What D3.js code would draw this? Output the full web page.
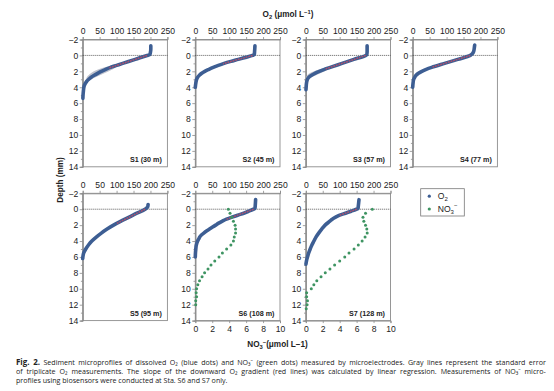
<!DOCTYPE html>
<html><head><meta charset="utf-8">
<script src="https://cdn.jsdelivr.net/npm/d3@7"></script>
<style>
html,body{margin:0;padding:0;background:#fff;}
svg{display:block;font-family:"Liberation Sans",Arial,sans-serif;}
</style></head>
<body>
<svg id="chart" width="554" height="391"></svg>
<script>
// ---- data: [depth (mm), O2 (µmol/L), standard error] ----
const stations = ["S1 (30 m)","S2 (45 m)","S3 (57 m)","S4 (77 m)","S5 (95 m)","S6 (108 m)","S7 (128 m)"];
const o2S1 = [[-1.2,201,0],[-0.8,201,0],[-0.4,200,0],[-0.1,198,1],[0,190,1],[0.5,155,3],[1,118,7],[1.25,100,12],[1.5,82,17],[1.75,68,21],[2,55,22],[2.25,44,20],[2.5,34,17],[2.75,25,13],[3,18,8],[3.25,12,4],[3.5,8,2],[3.75,5,1],[4,3.5,1],[4.5,2,0],[5,1,0],[5.4,0.5,0]];
const o2S2 = [[-1.2,176,0],[-0.5,175,0],[-0.1,174,0],[0,169,1],[0.25,148,1],[0.5,127,2],[0.75,105,2],[1,85,3],[1.25,68,3],[1.5,53,4],[1.75,40,4],[2,28,4],[2.25,19,3],[2.5,12,2],[2.75,7,1],[3,4,1],[3.5,1.5,0],[4,0,0]];
const o2S3 = [[-1.2,181,0],[-0.5,181,0],[-0.1,180,0],[0,177,1],[0.5,142,3],[1,107,6],[1.5,72,11],[1.75,55,14],[2,40,16],[2.25,27,16],[2.5,17,13],[2.75,9,8],[3,5,4],[3.25,3,2],[3.5,2,0],[4,1,0],[4.3,0.5,0]];
const o2S4 = [[-1.3,183,0],[-1,182,0],[-0.5,180,0],[-0.2,176,0],[0,170,1],[0.5,133,3],[1,94,5],[1.5,56,8],[1.75,40,8],[2,27,7],[2.25,17,5],[2.5,10,4],[2.75,6,2],[3,3,1],[3.5,1,0],[4,0,0]];
const o2S5 = [[-0.6,193,0],[-0.3,192,0],[0,184,1],[0.5,160,3],[1,137,5],[1.5,113,6],[2,91,6],[2.5,72,5],[3,55,3],[3.5,40,2],[4,27,1],[4.5,17,0],[5,9,0],[5.5,3,0],[6,0.5,0],[6.2,0,0]];
const o2S6 = [[-1.2,178,0],[-0.5,177,0],[-0.1,176,0],[0,172,1],[0.25,158,1],[0.5,143,2],[0.75,125,2],[1,108,3],[1.25,92,3],[1.5,80,3],[1.75,69,3],[2,60,3],[2.25,51,2],[2.5,42,2],[2.75,33,1],[3,25,1],[3.25,18,1],[3.5,13,1],[3.75,10,0],[4,7,0],[4.5,3,0],[5,1.5,0],[5.5,0.5,0],[6,0,0]];
const o2S7 = [[-1.2,157,0],[-0.8,156,0],[-0.4,155,0],[-0.1,154,0],[0,150,1],[0.25,134,2],[0.5,117,2],[0.75,100,3],[1,88,3],[1.25,78,3],[1.5,71,3],[2,57,2],[2.5,47,2],[3,38,1],[3.5,30,1],[4,24,1],[4.5,18,0],[5,13,0],[5.5,8.5,0],[6,5,0],[6.5,2,0],[6.9,0.5,0]];
// linear regression of downward O2 gradient: [depth, O2] endpoints
const regS1 = [[0,190],[1.6,76]];
const regS2 = [[0,169],[1.05,82]];
const regS3 = [[0,177],[1.7,58]];
const regS4 = [[0,170],[1.5,56]];
const regS5 = [[0,184],[1.8,100]];
const regS6 = [[0,172],[1.3,90]];
const regS7 = [[0,150],[0.75,100]];
// NO3- profiles: [depth (mm), NO3 (µmol/L)]
const no3S6 = [[0,3.9],[0.5,4.1],[1,4.3],[1.5,4.5],[2,4.7],[2.5,4.75],[3,4.75],[3.5,4.6],[4,4.5],[4.5,4.2],[5,3.7],[5.5,3.2],[6,2.8],[6.5,2.3],[7,1.85],[7.5,1.5],[8,1.1],[8.5,0.8],[9,0.5],[9.5,0.3],[10,0.15],[10.5,0.1],[11,0.15],[11.5,0.05],[12,0.05]];
const no3S7 = [[0,7.85],[0.5,7.05],[1,6.75],[1.5,6.85],[2,7.05],[2.5,7.2],[3,7.25],[3.5,7.0],[4,6.65],[4.5,6.2],[5,5.7],[5.5,5.1],[6,4.6],[6.5,4.0],[7,3.4],[7.5,2.85],[8,2.3],[8.5,1.8],[9,1.3],[9.5,0.95],[10,0.65],[10.5,0.1],[11,0.1],[11.5,0.2],[12,0.15],[12.5,0.05]];
const o2Ticks = [0,50,100,150,200,250];
const depthTicks = [-2,0,2,4,6,8,10,12,14];
const no3Ticks = [0,2,4,6,8,10];

const o2Data = [o2S1,o2S2,o2S3,o2S4,o2S5,o2S6,o2S7];
const regData = [regS1,regS2,regS3,regS4,regS5,regS6,regS7];
const no3Data = [null,null,null,null,null,no3S6,no3S7];

// ---- layout ----
const colLeft = [82.7,195.3,305.8,412.7];
const rowTop = [39.5,193.3];
const PW = 84.7, PH = 127.3;
const pos = [[0,0],[0,1],[0,2],[0,3],[1,0],[1,1],[1,2]];
const blue = "#3d5e93", green = "#3e9462", red = "#c24d66", frame = "#8c8c8c";

const svg = d3.select("#chart");

pos.forEach(([r,c],i)=>{
  const g = svg.append("g").attr("transform",`translate(${colLeft[c]},${rowTop[r]})`);
  const x = d3.scaleLinear().domain([0,250]).range([0,PW]);
  const xn = d3.scaleLinear().domain([0,10]).range([0,PW]);
  const y = d3.scaleLinear().domain([-2,14]).range([0,PH]);

  g.append("rect").attr("width",PW).attr("height",PH).attr("fill","none").attr("stroke",frame).attr("stroke-width",0.9);

  const top = g.append("g").call(d3.axisTop(x).tickValues(o2Ticks).tickSize(2.5).tickFormat(d3.format("d")));
  const left = g.append("g").call(d3.axisLeft(y).tickValues(depthTicks).tickSize(3).tickFormat(d=> d<0 ? "\u2212"+Math.abs(d) : d));
  const leftMinor = g.append("g").call(d3.axisLeft(y).tickValues(d3.range(-1,14,2)).tickSize(1.8).tickFormat(""));
  [top,left,leftMinor].forEach(a=>{
    a.attr("font-family","Liberation Sans, Arial, sans-serif");
    a.select(".domain").attr("stroke",frame).attr("stroke-width",0.9);
    a.selectAll(".tick line").attr("stroke",frame).attr("stroke-width",0.8);
    a.selectAll("text").attr("font-size",8.6).attr("fill","#222");
  });
  top.selectAll("text").attr("dy","0.05em");
  left.selectAll("text").attr("x",-4.5);
  if(no3Data[i]){
    const bot = g.append("g").attr("transform",`translate(0,${PH})`).attr("font-family","Liberation Sans, Arial, sans-serif")
      .call(d3.axisBottom(xn).tickValues(no3Ticks).tickSize(2.5));
    bot.select(".domain").attr("stroke",frame).attr("stroke-width",0.9);
    bot.selectAll(".tick line").attr("stroke",frame).attr("stroke-width",0.8);
    bot.selectAll("text").attr("font-size",8.6).attr("fill","#222").attr("y",5);
  }

  g.append("line").attr("x1",0).attr("x2",PW).attr("y1",y(0)).attr("y2",y(0))
    .attr("stroke","#333").attr("stroke-width",0.8).attr("stroke-dasharray","1,1");

  const d = o2Data[i];
  g.append("path").datum(d)
    .attr("d",d3.area().y(p=>y(p[0])).x0(p=>x(Math.max(0,p[1]-p[2]))).x1(p=>x(p[1]+p[2])).curve(d3.curveMonotoneY))
    .attr("fill","#b9bdc8").attr("opacity",0.9);
  g.append("path").datum(d)
    .attr("d",d3.line().x(p=>x(p[1])).y(p=>y(p[0])).curve(d3.curveMonotoneY))
    .attr("fill","none").attr("stroke",blue).attr("stroke-width",3.6).attr("stroke-linecap","round").attr("stroke-linejoin","round");
  g.append("path").datum(regData[i])
    .attr("d",d3.line().x(p=>x(p[1])).y(p=>y(p[0])))
    .attr("fill","none").attr("stroke",red).attr("stroke-width",1.5).attr("stroke-dasharray","1.8,0.9").attr("opacity",0.85);
  if(no3Data[i]){
    g.selectAll("circle.no3").data(no3Data[i]).join("circle").attr("class","no3")
      .attr("cx",p=>xn(p[1])).attr("cy",p=>y(p[0])).attr("r",1.5).attr("fill",green);
  }
  g.append("text").attr("x",PW-5.5).attr("y",PH-5).attr("text-anchor","end")
    .attr("font-size",7.2).attr("font-weight","bold").attr("fill","#222").text(stations[i]);
});

const t1 = svg.append("text").attr("x",288).attr("y",17).attr("text-anchor","middle").attr("font-size",8.2).attr("font-weight","bold").attr("fill","#222");
t1.append("tspan").text("O");
t1.append("tspan").attr("font-size",5.8).attr("dy",2).text("2");
t1.append("tspan").attr("dy",-2).text(" (\u03bcmol L");
t1.append("tspan").attr("font-size",5.8).attr("dy",-3).text("\u22121");
t1.append("tspan").attr("dy",3).text(")");

const t2 = svg.append("text").attr("x",277.5).attr("y",347).attr("text-anchor","middle").attr("font-size",8.2).attr("font-weight","bold").attr("fill","#222");
t2.append("tspan").text("NO");
t2.append("tspan").attr("font-size",5.8).attr("dy",2).text("3");
t2.append("tspan").attr("font-size",5.8).attr("dy",-5).text("\u2212");
t2.append("tspan").attr("dy",3).text("(\u03bcmol L\u22121)");

svg.append("text").attr("transform","translate(63,180) rotate(-90)").attr("text-anchor","middle")
  .attr("font-size",8.2).attr("font-weight","bold").attr("fill","#222").text("Depth (mm)");

const lg = svg.append("g").attr("transform","translate(420.7,188.7)");
lg.append("rect").attr("width",43.6).attr("height",27.3).attr("fill","#fff").attr("stroke","#777").attr("stroke-width",0.8);
const legItems = [{c:blue,t:"O",sub:"2",sup:""},{c:green,t:"NO",sub:"3",sup:"\u2212"}];
legItems.forEach((it,k)=>{
  const yy = 7.5 + k*12.8;
  lg.append("circle").attr("cx",8.6).attr("cy",yy).attr("r",1.6).attr("fill",it.c);
  const tx = lg.append("text").attr("x",17).attr("y",yy+3).attr("font-size",8.6).attr("fill","#222");
  tx.append("tspan").text(it.t);
  tx.append("tspan").attr("font-size",6).attr("dy",2).text(it.sub);
  if(it.sup) tx.append("tspan").attr("font-size",6).attr("dy",-6.5).text(it.sup);
});

// caption: narrow glyphs, lines 1-2 justified by word spacing
const capFont = 7.3;
const capLines = [
  {y:364.5, bold:"Fig. 2.", text:" Sediment microprofiles of dissolved O\u2082 (blue dots) and NO\u2083\u207B (green dots) measured by microelectrodes. Gray lines represent the standard error", full:true},
  {y:373.5, bold:"", text:"of triplicate O\u2082 measurements. The slope of the downward O\u2082 gradient (red lines) was calculated by linear regression. Measurements of NO\u2083\u207B micro-", full:true},
  {y:382.5, bold:"", text:"profiles using biosensors were conducted at Sta. S6 and S7 only.", full:false}
];
const blockW = 531, lastW = 212;
const capNodes = capLines.map(L=>{
  const t = svg.append("text").attr("font-size",capFont).attr("fill","#222")
    .attr("font-family","'Open Sans','Noto Sans','DejaVu Sans',sans-serif");
  if(L.bold) t.append("tspan").attr("font-weight","bold").attr("font-size","1.12em").text(L.bold);
  t.append("tspan").text(L.text);
  return {t, L, w: t.node().getComputedTextLength()};
});
const sx = lastW / capNodes[2].w;
capNodes.forEach(n=>{
  let s = sx;
  if(n.L.full && n.w*s > blockW) s = blockW/n.w;
  n.t.attr("transform",`translate(16,${n.L.y}) scale(${s},1)`);
  if(n.L.full){
    const nSp = (n.L.bold + n.L.text).split(" ").length - 1;
    const extra = Math.max(0,(blockW/s - n.w)/nSp);
    n.t.attr("word-spacing", extra);
  }
});
</script>
</body></html>
